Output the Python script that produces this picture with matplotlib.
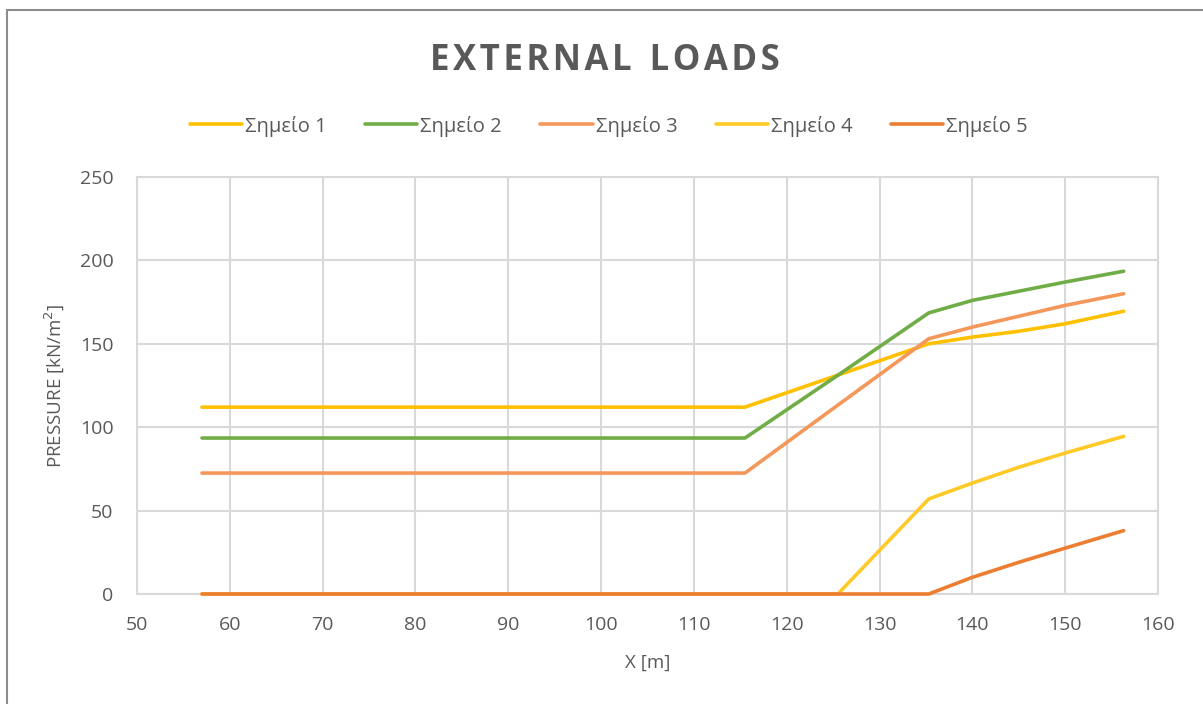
import matplotlib
matplotlib.use("Agg")
import matplotlib.pyplot as plt
from matplotlib.patches import Rectangle

# station along the section [m]
x_m = [57.0, 115.5, 125.5, 135.3, 140.0, 145.0, 150.0, 156.3]

# pressures at the five points [kN/m2]
p1 = [112.0, 112.0, 131.2, 150.0, 154.0, 157.5, 162.0, 169.5]
p2 = [93.5, 93.5, 131.1, 168.5, 176.0, 181.5, 187.0, 193.5]
p3 = [72.5, 72.5, 113.2, 153.0, 160.0, 166.5, 173.0, 180.0]
p4 = [0.0, 0.0, 0.0, 57.0, 66.5, 76.0, 84.5, 94.5]
p5 = [0.0, 0.0, 0.0, 0.0, 10.0, 19.0, 27.5, 38.0]

labels = ["Σημείο 1", "Σημείο 2", "Σημείο 3", "Σημείο 4", "Σημείο 5"]
colors = ["#FFC000", "#70AD47", "#F4975A", "#FFCA28", "#ED7D31"]

plt.rcParams['font.family'] = ['Open Sans', 'DejaVu Sans']
text_grey = "#595959"
grid_grey = "#D9D9D9"

fig = plt.figure(figsize=(12.03, 7.04), dpi=100)
ax = fig.add_axes([0.1139, 0.15625, 0.8487, 0.5924])

# chart-area outline
fig.patches.append(Rectangle((7 / 1203, -0.1), 1.2, 1 - 10 / 704 + 0.1,
                             transform=fig.transFigure, fill=False,
                             edgecolor="#8C8C8C", linewidth=1.5))

# unclipped so the zero-pressure runs keep their full width on the bottom edge
for ys, lab, c in zip([p1, p2, p3, p4, p5], labels, colors):
    ax.plot(x_m, ys, color=c, lw=2.6, label=lab, clip_on=False,
            solid_joinstyle='round', solid_capstyle='round')

ax.set_xlim(50, 160)
ax.set_ylim(0, 250)
ax.set_xticks(range(50, 161, 10))
ax.set_yticks(range(0, 251, 50))
ax.grid(True, color=grid_grey, lw=1.5)
ax.set_axisbelow(True)
for s in ax.spines.values():
    s.set_color(grid_grey)
    s.set_linewidth(1.5)
    s.set_zorder(0.5)
ax.tick_params(length=0, labelsize=14, colors=text_grey)
ax.tick_params(axis='y', pad=17)
ax.tick_params(axis='x', pad=16)

ax.set_xlabel("X [m]", fontsize=13.5, color=text_grey, labelpad=14)
ax.set_ylabel("PRESSURE [kN/m$^2$]", fontsize=13.5, color=text_grey, labelpad=10)

title = "EXTERNAL LOADS"
spaced = "  ".join("\u200a".join(w) for w in title.split())
fig.text(0.503, 0.913, spaced, ha='center', va='center', fontsize=25,
         fontweight='bold', color=text_grey)

fig.legend(loc='center', bbox_to_anchor=(0.506, 0.821), ncol=5, frameon=False,
           fontsize=14.5, labelcolor=text_grey, handlelength=2.6,
           handletextpad=0.15, columnspacing=1.9)

fig.savefig("out.png", dpi=100, facecolor='white')
